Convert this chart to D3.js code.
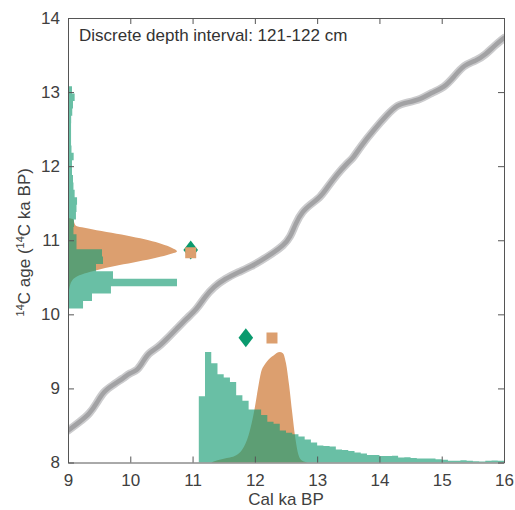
<!DOCTYPE html>
<html>
<head>
<meta charset="utf-8">
<script src="https://cdn.jsdelivr.net/npm/d3@7/dist/d3.min.js"></script>
<style>
  html, body { margin: 0; padding: 0; background: #fff; }
  svg { display: block; font-family: "Liberation Sans", Arial, Helvetica, sans-serif; }
</style>
</head>
<body>
<svg id="chart" width="515" height="510"></svg>
<script>
// ---------------- DATA ----------------
const titleText = "Discrete depth interval: 121-122 cm";
const xTicks = [9, 10, 11, 12, 13, 14, 15, 16];
const yTicks = [8, 9, 10, 11, 12, 13, 14];

// calibration curve (cal ka BP -> 14C ka BP)
const curveCal = [9.00, 9.19, 9.35, 9.46, 9.57, 9.73, 9.89, 10.00, 10.11, 10.19, 10.29, 10.43, 10.59, 10.75, 10.91, 11.07, 11.20, 11.34, 11.52, 11.74, 11.95, 12.09, 12.28, 12.46, 12.57, 12.65, 12.76, 12.92, 13.06, 13.16, 13.32, 13.48, 13.57, 13.70, 13.91, 14.13, 14.29, 14.45, 14.66, 14.83, 15.04, 15.20, 15.36, 15.55, 15.71, 15.84, 16.00];
const curve14C = [8.43, 8.55, 8.66, 8.80, 8.96, 9.05, 9.14, 9.21, 9.24, 9.34, 9.48, 9.54, 9.67, 9.81, 9.95, 10.07, 10.24, 10.37, 10.48, 10.57, 10.65, 10.72, 10.82, 10.93, 11.04, 11.22, 11.39, 11.50, 11.59, 11.71, 11.89, 12.04, 12.10, 12.27, 12.49, 12.70, 12.83, 12.86, 12.90, 12.99, 13.06, 13.21, 13.37, 13.42, 13.51, 13.62, 13.73];

// radiocarbon age histogram (left, teal): bin lower edges (14C ka) and relative probability
const left14CBins = [10.08, 10.18, 10.28, 10.38, 10.48, 10.58, 10.68, 10.78, 10.88, 10.98, 11.08, 11.18, 11.28, 11.38, 11.48, 11.58, 11.68, 11.78, 11.88, 11.98, 12.08, 12.18, 12.28, 12.38, 12.48, 12.58, 12.68, 12.78, 12.88, 12.98, 13.08, 13.18, 13.28, 13.38];
const left14CProb = [0.138, 0.22, 0.394, 1.0, 0.413, 0.257, 0.321, 0.312, 0.078, 0.078, 0.05, 0.055, 0.073, 0.078, 0.083, 0.061, 0.05, 0.046, 0.037, 0.037, 0.052, 0.032, 0.028, 0.028, 0.028, 0.029, 0.039, 0.046, 0.061, 0.037, 0.009, 0.005, 0.009, 0.005];

// measured 14C age density (left, orange)
const leftDens14C = [10.25, 10.30, 10.35, 10.40, 10.45, 10.50, 10.55, 10.60, 10.65, 10.70, 10.75, 10.80, 10.85, 10.90, 10.95, 11.00, 11.05, 11.10, 11.15, 11.20, 11.25, 11.28, 11.30];
const leftDensProb = [0, 0.006, 0.012, 0.02, 0.035, 0.07, 0.15, 0.27, 0.42, 0.6, 0.77, 0.91, 1.0, 0.95, 0.86, 0.74, 0.58, 0.4, 0.22, 0.07, 0.055, 0.05, 0];

// calendar age histogram (bottom, teal): bin lower edges (cal ka BP) and relative probability
const calBins = [11.1, 11.2, 11.3, 11.4, 11.5, 11.6, 11.7, 11.8, 11.9, 12.0, 12.1, 12.2, 12.3, 12.4, 12.5, 12.6, 12.7, 12.8, 12.9, 13.0, 13.1, 13.2, 13.3, 13.4, 13.5, 13.6, 13.7, 13.8, 13.9, 14.0, 14.1, 14.2, 14.3, 14.4, 14.5, 14.6, 14.7, 14.8, 14.9, 15.0, 15.1, 15.2, 15.3, 15.4, 15.5, 15.6, 15.7, 15.8, 15.9];
const calProb = [0.60, 1.00, 0.90, 0.80, 0.77, 0.73, 0.61, 0.56, 0.48, 0.48, 0.43, 0.37, 0.35, 0.29, 0.27, 0.255, 0.236, 0.209, 0.182, 0.155, 0.15, 0.145, 0.118, 0.114, 0.105, 0.091, 0.082, 0.068, 0.068, 0.059, 0.059, 0.062, 0.045, 0.048, 0.041, 0.036, 0.036, 0.036, 0.03, 0.025, 0.015, 0.015, 0.021, 0.015, 0.011, 0.009, 0.016, 0.018, 0.015];

// calibrated age density (bottom, orange)
const botDensCal = [11.30, 11.40, 11.50, 11.60, 11.70, 11.80, 11.90, 11.95, 12.00, 12.05, 12.10, 12.15, 12.20, 12.30, 12.40, 12.45, 12.50, 12.55, 12.60, 12.65, 12.70, 12.75, 12.85];
const botDensProb = [0, 0.02, 0.035, 0.045, 0.065, 0.12, 0.25, 0.36, 0.50, 0.67, 0.82, 0.88, 0.92, 0.97, 1.0, 0.99, 0.90, 0.70, 0.45, 0.22, 0.07, 0.02, 0];

// point estimates [cal ka BP, 14C ka BP]
const diamondPts = [[10.97, 10.87], [11.855, 9.685]];
const squarePts = [[10.97, 10.83], [12.275, 9.68]];

// ---------------- DRAW ----------------
const svg = d3.select("#chart");
const x = d3.scaleLinear().domain([9, 16]).range([68, 504]);
const y = d3.scaleLinear().domain([8, 14]).range([462.5, 18]);

const teal = "#1b9e77", tealOpacity = 0.66;
const orange = "#dc9f6f";
const axisColor = "#555";
const textColor = "#404040";

// scale for left distributions (relative probability -> x position)
const pLeft = d3.scaleLinear().domain([0, 1]).range([x(9), x(10.75)]);
// scale for bottom distributions (relative probability -> y position)
const pBot = d3.scaleLinear().domain([0, 1]).range([y(8), y(9.49)]);

svg.append("defs").append("clipPath").attr("id", "plotclip")
  .append("rect").attr("x", x(9)).attr("y", y(14)).attr("width", x(16) - x(9)).attr("height", y(8) - y(14));

const g = svg.append("g").attr("clip-path", "url(#plotclip)");

// orange left density
g.append("path")
  .datum(leftDens14C.map((v, i) => [v, leftDensProb[i]]))
  .attr("fill", orange)
  .attr("d", d3.area().curve(d3.curveMonotoneY)
    .y(d => y(d[0])).x0(pLeft(0)).x1(d => pLeft(d[1])));

// orange bottom density
g.append("path")
  .datum(botDensCal.map((v, i) => [v, botDensProb[i]]))
  .attr("fill", orange)
  .attr("d", d3.area().curve(d3.curveMonotoneX)
    .x(d => x(d[0])).y0(pBot(0)).y1(d => pBot(d[1])));

// teal left histogram (single step path)
(function () {
  const pts = [[pLeft(0), y(left14CBins[0])]];
  left14CBins.forEach((b, i) => {
    pts.push([pLeft(left14CProb[i]), y(b)]);
    pts.push([pLeft(left14CProb[i]), y(b + 0.1)]);
  });
  pts.push([pLeft(0), y(left14CBins[left14CBins.length - 1] + 0.1)]);
  g.append("path").attr("d", d3.line()(pts) + "Z")
    .attr("fill", teal).attr("fill-opacity", tealOpacity);
})();

// teal bottom histogram
(function () {
  const pts = [[x(calBins[0]), pBot(0)]];
  calBins.forEach((b, i) => {
    pts.push([x(b), pBot(calProb[i])]);
    pts.push([x(b + 0.1), pBot(calProb[i])]);
  });
  pts.push([x(calBins[calBins.length - 1] + 0.1), pBot(0)]);
  g.append("path").attr("d", d3.line()(pts) + "Z")
    .attr("fill", teal).attr("fill-opacity", tealOpacity);
})();

// calibration curve
const curveData = curveCal.map((c, i) => [c, curve14C[i]]);
const curveLine = d3.line().curve(d3.curveBasis).x(d => x(d[0])).y(d => y(d[1]));
g.append("path").datum(curveData).attr("d", curveLine)
  .attr("fill", "none").attr("stroke", "#cbcbcd").attr("stroke-width", 8)
  .attr("stroke-linejoin", "round").attr("stroke-linecap", "round");
g.append("path").datum(curveData).attr("d", curveLine)
  .attr("fill", "none").attr("stroke", "#a2a2a4").attr("stroke-width", 4.5)
  .attr("stroke-linejoin", "round").attr("stroke-linecap", "round");

// markers
diamondPts.forEach(d => {
  const cx = x(d[0]), cy = y(d[1]);
  g.append("path")
    .attr("d", `M${cx},${cy - 9.5}L${cx + 7.3},${cy}L${cx},${cy + 9.5}L${cx - 7.3},${cy}Z`)
    .attr("fill", "#0a9a6e");
});
squarePts.forEach(d => {
  g.append("path")
    .attr("transform", `translate(${x(d[0])},${y(d[1])})`)
    .attr("d", d3.symbol().type(d3.symbolSquare).size(11 * 11)())
    .attr("fill", orange);
});

// axes
function styleAxis(sel) {
  sel.selectAll(".domain").attr("stroke", axisColor);
  sel.selectAll(".tick line").attr("stroke", axisColor);
  sel.selectAll(".tick text").attr("fill", textColor).style("font-size", "17px")
    .style("font-family", '"Liberation Sans", Arial, Helvetica, sans-serif');
}
svg.append("g").attr("transform", `translate(0,${y(8)})`)
  .call(d3.axisBottom(x).tickValues(xTicks).tickFormat(d3.format("d")).tickSizeInner(-6).tickSizeOuter(0).tickPadding(11.5))
  .call(styleAxis);
svg.append("g").attr("transform", `translate(${x(9)},0)`)
  .call(d3.axisLeft(y).tickValues(yTicks).tickFormat(d3.format("d")).tickSizeInner(-6).tickSizeOuter(0).tickPadding(8))
  .call(styleAxis);
svg.append("g").attr("transform", `translate(0,${y(14)})`)
  .call(d3.axisTop(x).tickValues(xTicks).tickFormat("").tickSizeInner(-6).tickSizeOuter(0))
  .call(styleAxis);
svg.append("g").attr("transform", `translate(${x(16)},0)`)
  .call(d3.axisRight(y).tickValues(yTicks).tickFormat("").tickSizeInner(-6).tickSizeOuter(0))
  .call(styleAxis);

// title inside plot
svg.append("text").attr("x", x(9) + 11).attr("y", y(14) + 23)
  .attr("fill", "#333").style("font-size", "17px").text(titleText);

// x label
svg.append("text").attr("x", (x(9) + x(16)) / 2).attr("y", 505)
  .attr("text-anchor", "middle").attr("fill", textColor).style("font-size", "17px")
  .text("Cal ka BP");

// y label
const yl = svg.append("text").attr("transform", `translate(30,${(y(8) + y(14)) / 2 + 2}) rotate(-90)`)
  .attr("text-anchor", "middle").attr("fill", textColor).style("font-size", "17px");
yl.append("tspan").attr("baseline-shift", "super").style("font-size", "11px").text("14");
yl.append("tspan").text("C age (");
yl.append("tspan").attr("baseline-shift", "super").style("font-size", "11px").text("14");
yl.append("tspan").text("C ka BP)");
</script>
</body>
</html>
